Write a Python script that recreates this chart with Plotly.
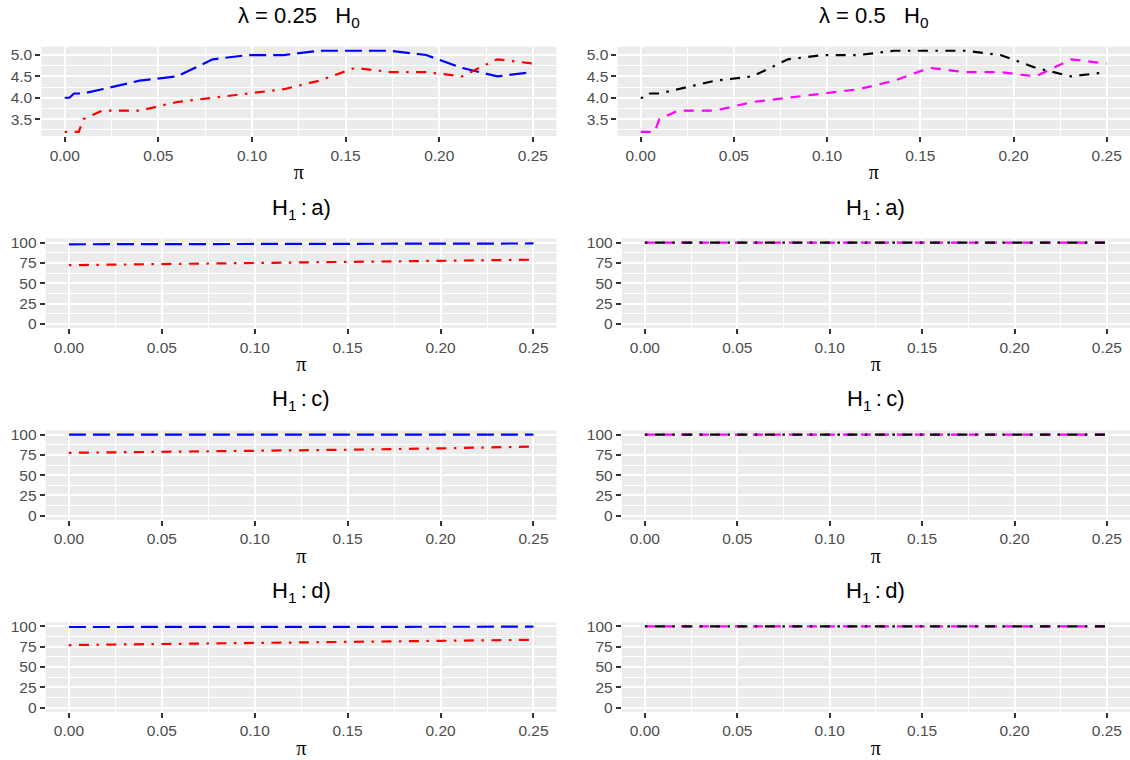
import plotly.graph_objects as go

# ---------------- data ----------------
pi_h0 = [0, 0.0025, 0.005, 0.0075, 0.01, 0.02, 0.04, 0.06, 0.079, 0.098,
         0.117, 0.136, 0.155, 0.174, 0.193, 0.212, 0.231, 0.25]
l025_h0_blue = [4.0, 4.0, 4.1, 4.1, 4.1, 4.2, 4.4, 4.5, 4.9, 5.0,
                5.0, 5.1, 5.1, 5.1, 5.0, 4.7, 4.5, 4.6]
l025_h0_red = [3.2, 3.2, 3.2, 3.2, 3.5, 3.7, 3.7, 3.9, 4.0, 4.1,
               4.2, 4.4, 4.7, 4.6, 4.6, 4.5, 4.9, 4.8]
l05_h0_black = [4.0, 4.0, 4.1, 4.1, 4.1, 4.2, 4.4, 4.5, 4.9, 5.0,
                5.0, 5.1, 5.1, 5.1, 5.0, 4.7, 4.5, 4.6]
l05_h0_magenta = [3.2, 3.2, 3.2, 3.2, 3.5, 3.7, 3.7, 3.9, 4.0, 4.1,
                  4.2, 4.4, 4.7, 4.6, 4.6, 4.5, 4.9, 4.8]

pi_h1 = [0, 0.05, 0.10, 0.15, 0.20, 0.25]
l025_a_blue = [98.0, 98.2, 98.4, 98.6, 98.8, 99.0]
l025_a_red = [72.3, 73.5, 75.0, 76.5, 77.8, 79.0]
l025_c_blue = [99.9, 99.9, 99.9, 99.9, 99.9, 99.9]
l025_c_red = [77.5, 78.5, 79.8, 81.3, 83.0, 85.2]
l025_d_blue = [99.2, 99.3, 99.4, 99.5, 99.5, 99.6]
l025_d_red = [77.0, 78.2, 79.5, 80.8, 82.0, 83.5]
l05_a_black = [100, 100, 100, 100, 100, 100]
l05_a_magenta = [100, 100, 100, 100, 100, 100]
l05_c_black = [100, 100, 100, 100, 100, 100]
l05_c_magenta = [100, 100, 100, 100, 100, 100]
l05_d_black = [100, 100, 100, 100, 100, 100]
l05_d_magenta = [100, 100, 100, 100, 100, 100]

x_ticks = [0, 0.05, 0.10, 0.15, 0.20, 0.25]
x_ticklabels = ["0.00", "0.05", "0.10", "0.15", "0.20", "0.25"]
x_minor = [0.025, 0.075, 0.125, 0.175, 0.225]
y0_ticks = [3.5, 4.0, 4.5, 5.0]
y0_ticklabels = ["3.5", "4.0", "4.5", "5.0"]
y0_minor = [3.25, 3.75, 4.25, 4.75]
y1_ticks = [0, 25, 50, 75, 100]
y1_ticklabels = ["0", "25", "50", "75", "100"]
y1_minor = [12.5, 37.5, 62.5, 87.5]

titles_left = ["λ = 0.25\u00a0\u00a0\u00a0H<sub>0</sub>", "H<sub>1</sub>\u2009:\u2009a)",
               "H<sub>1</sub>\u2009:\u2009c)", "H<sub>1</sub>\u2009:\u2009d)"]
titles_right = ["λ = 0.5\u00a0\u00a0\u00a0H<sub>0</sub>", "H<sub>1</sub>\u2009:\u2009a)",
                "H<sub>1</sub>\u2009:\u2009c)", "H<sub>1</sub>\u2009:\u2009d)"]

# ---------------- layout geometry (pixels) ----------------
W, H = 1130, 760
row_px = [(46.7, 136.0), (238.6, 327.9), (430.5, 519.8), (622.3, 711.7)]
left_px = [(41.3, 556.3), (45.7, 556.7), (45.7, 556.7), (45.7, 556.7)]
right_px = [(617.4, 1130.0), (621.8, 1130.0), (621.8, 1130.0), (621.8, 1130.0)]

LONGDASH = "17px,7px"
DOTDASH = "2.5px,7.5px,10px,7.5px"
DASHED = "10px,8px"
LW = 2.2

panels = [
    # (col, row, x, [(y, color, dash), ...])
    (0, 0, pi_h0, [(l025_h0_blue, "#0000FF", LONGDASH), (l025_h0_red, "#FF0000", DOTDASH)]),
    (1, 0, pi_h0, [(l05_h0_magenta, "#FF00FF", DASHED), (l05_h0_black, "#000000", DOTDASH)]),
    (0, 1, pi_h1, [(l025_a_blue, "#0000FF", LONGDASH), (l025_a_red, "#FF0000", DOTDASH)]),
    (1, 1, pi_h1, [(l05_a_magenta, "#FF00FF", DASHED), (l05_a_black, "#000000", DOTDASH)]),
    (0, 2, pi_h1, [(l025_c_blue, "#0000FF", LONGDASH), (l025_c_red, "#FF0000", DOTDASH)]),
    (1, 2, pi_h1, [(l05_c_magenta, "#FF00FF", DASHED), (l05_c_black, "#000000", DOTDASH)]),
    (0, 3, pi_h1, [(l025_d_blue, "#0000FF", LONGDASH), (l025_d_red, "#FF0000", DOTDASH)]),
    (1, 3, pi_h1, [(l05_d_magenta, "#FF00FF", DASHED), (l05_d_black, "#000000", DOTDASH)]),
]

fig = go.Figure()
layout = {}
annotations = []
tick_font = dict(family="Liberation Sans, Arial, sans-serif", size=15.5, color="#4D4D4D")

for i, (col, row, xs, series) in enumerate(panels):
    n = i + 1
    xname = "x" if n == 1 else f"x{n}"
    yname = "y" if n == 1 else f"y{n}"
    xkey = "xaxis" if n == 1 else f"xaxis{n}"
    ykey = "yaxis" if n == 1 else f"yaxis{n}"
    xp = (left_px if col == 0 else right_px)[row]
    yp = row_px[row]
    xdom = [xp[0] / W, min(xp[1] / W, 1.0)]
    ydom = [1 - yp[1] / H, 1 - yp[0] / H]

    for ys, color, dash in series:
        fig.add_trace(go.Scatter(x=xs, y=ys, mode="lines", xaxis=xname, yaxis=yname,
                                 line=dict(color=color, width=LW, dash=dash),
                                 showlegend=False, hoverinfo="skip"))

    layout[xkey] = dict(
        domain=xdom, anchor=yname, range=[-0.0125, 0.2625],
        tickmode="array", tickvals=x_ticks, ticktext=x_ticklabels,
        ticks="outside", ticklen=5, tickwidth=2, tickcolor="#333333",
        showgrid=True, gridcolor="white", gridwidth=2, zeroline=False, showline=False,
        tickfont=tick_font, automargin=False,
        minor=dict(tickmode="array", tickvals=x_minor, showgrid=True, gridcolor="white",
                   gridwidth=1, ticks=""),
        title=dict(text="π", font=dict(family="Liberation Serif, DejaVu Serif, serif", size=20,
                                       color="black"), standoff=2),
        fixedrange=True,
    )
    if row == 0:
        yr, yt, ytl, ym = [3.105, 5.195], y0_ticks, y0_ticklabels, y0_minor
    else:
        yr, yt, ytl, ym = [-5, 105], y1_ticks, y1_ticklabels, y1_minor
    layout[ykey] = dict(
        domain=ydom, anchor=xname, range=yr,
        tickmode="array", tickvals=yt, ticktext=ytl,
        ticks="outside", ticklen=5, tickwidth=2, tickcolor="#333333",
        showgrid=True, gridcolor="white", gridwidth=2, zeroline=False, showline=False,
        tickfont=tick_font, automargin=False,
        minor=dict(tickmode="array", tickvals=ym, showgrid=True, gridcolor="white",
                   gridwidth=1, ticks=""),
        fixedrange=True,
    )
    title = (titles_left if col == 0 else titles_right)[row]
    annotations.append(dict(
        text=title, xref="paper", yref="paper",
        x=(xdom[0] + xdom[1]) / 2, y=1 - (yp[0] - 30) / H,
        xanchor="center", yanchor="middle", showarrow=False,
        font=dict(family="Liberation Sans, Arial, sans-serif", size=22, color="black"),
    ))

fig.update_layout(
    width=W, height=H,
    margin=dict(l=0, r=0, t=0, b=0, pad=0),
    paper_bgcolor="white", plot_bgcolor="#EBEBEB",
    annotations=annotations,
    **layout,
)

fig.write_html(
    "out.html",
    config={"displayModeBar": False, "staticPlot": True},
    post_script="document.body.style.margin='0';document.body.style.padding='0';"
                "document.body.style.overflow='hidden';",
)
